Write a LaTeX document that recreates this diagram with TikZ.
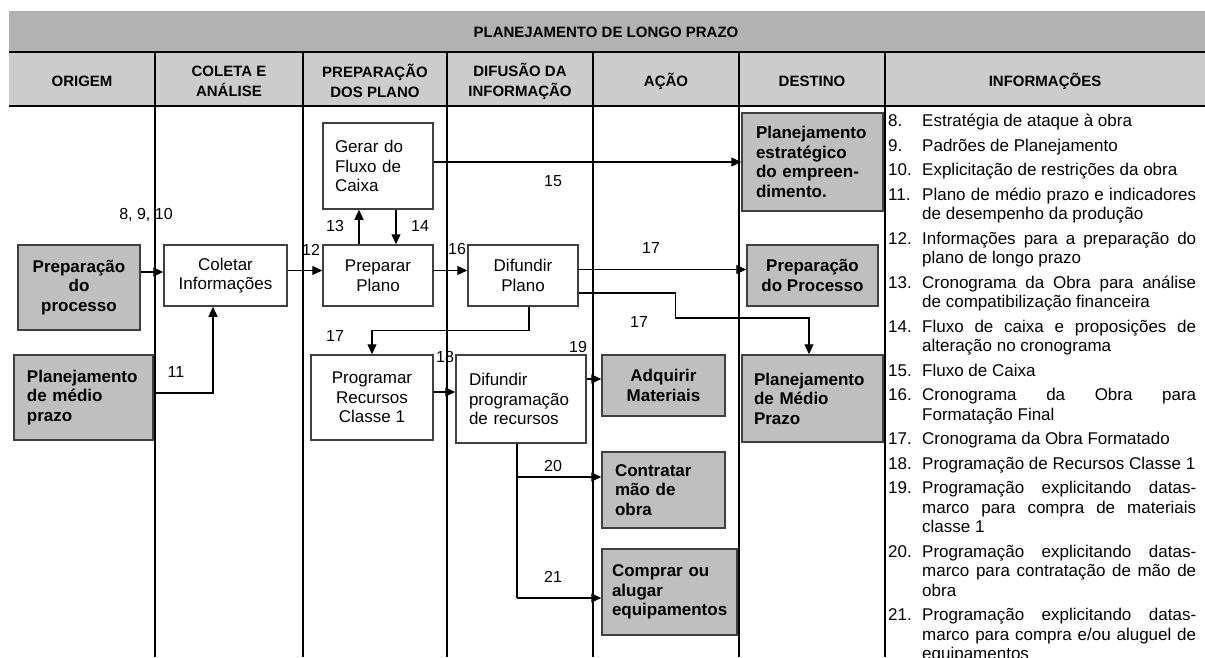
\documentclass[tikz,border=0pt]{standalone}
\usepackage{fontspec}
\setmainfont{Liberation Sans}
\usetikzlibrary{positioning,arrows.meta}
\definecolor{bandgray}{gray}{0.70}
\definecolor{headgray}{gray}{0.80}
\definecolor{boxgray}{gray}{0.75}
\newcommand{\infoitem}[2]{\hangindent=34pt\hangafter=1\noindent\makebox[34pt][l]{#1}#2\par}

\begin{document}
\begin{tikzpicture}[x=1pt, y=-1pt,
  every node/.style={font=\fontsize{17}{19.5}\selectfont, inner sep=0pt},
  head/.style={font=\fontsize{15}{20}\selectfont\bfseries, align=center},
  wbox/.style={draw=black!75, line width=1.5pt, fill=white, align=center, inner sep=4pt},
  gbox/.style={wbox, fill=boxgray, font=\fontsize{17}{19.5}\selectfont\bfseries},
  num/.style={font=\fontsize{16}{19}\selectfont},
  arr/.style={-{Triangle[length=10pt,width=9pt]}, line width=1.2pt}]
\useasboundingbox (0,0) rectangle (1205,657);

% cabecalho
\fill[bandgray] (9,11) rectangle (1205,52);
\fill[headgray] (9,52) rectangle (1205,106);
\draw[line width=1.6pt] (9,52) -- (1205,52);
\draw[line width=1.6pt] (9,106) -- (1205,106);
\foreach \x in {155,303,447,593,739,885}
  \draw[line width=1.4pt] (\x,52) -- (\x,657);

\node[head] (title) at (606,32) {PLANEJAMENTO DE LONGO PRAZO};
\node[head] (hOrig) at (82,81) {ORIGEM};
\node[head] (hCol) at (229,81) {COLETA E\\ANÁLISE};
\node[head] (hPrep) at (375,81) {PREPARAÇÃO\\DOS PLANO};
\node[head] (hDif) at (520,81) {DIFUSÃO DA\\INFORMAÇÃO};
\node[head] (hAcao) at (666,81) {AÇÃO};
\node[head] (hDest) at (812,81) {DESTINO};
\node[head] (hInfo) at (1045,81) {INFORMAÇÕES};

% caixas
\node[gbox, minimum width=122, minimum height=85] (prepproc) at (79,287.5) {Preparação\\do\\processo};
\node[gbox, align=left, text width=113, inner xsep=13, minimum height=85] (planmp) at (83.5,397.5) {Planejamento\\de médio\\prazo};
\node[wbox, minimum width=123, minimum height=61] (coletar) at (225.5,275.5) {Coletar\\Informações};
\node[wbox, align=left, text width=86, inner xsep=12, minimum height=86] (gerar) at (378,166) {Gerar do\\Fluxo de\\Caixa};
\node[wbox, minimum width=110, minimum height=61] (preparar) at (378,275.5) {Preparar\\Plano};
\node[wbox, minimum width=122, minimum height=85] (programar) at (372,397.5) {Programar\\Recursos\\Classe 1};
\node[wbox, minimum width=110, minimum height=61] (difplano) at (523,275.5) {Difundir\\Plano};
\node[wbox, align=left, text width=104, inner xsep=13, minimum height=88] (difprog) at (521,399) {Difundir\\programação\\de recursos};
\node[gbox, minimum width=123, minimum height=61] (adquirir) at (663.5,385.5) {Adquirir\\Materiais};
\node[gbox, align=left, text width=97, inner xsep=13, minimum height=76] (contratar) at (663.5,490) {Contratar\\mão de\\obra};
\node[gbox, align=left, text width=115, inner xsep=10, minimum height=86] (comprar) at (669.5,592) {Comprar ou\\alugar\\equipamentos};
\node[gbox, align=left, text width=113, inner xsep=14, minimum height=98] (planest) at (812.5,162) {Planejamento\\estratégico\\do empreen-\\dimento.};
\node[gbox, minimum width=131, minimum height=61] (prepprocesso) at (812.5,275.5) {Preparação\\do Processo};
\node[gbox, align=left, text width=117, inner xsep=12, minimum height=87] (planmp2) at (812.5,398.5) {Planejamento\\de Médio\\Prazo};

% fluxos
\draw[arr] ([yshift=15.5]prepproc.east) -- ([yshift=3.5]coletar.west);
\draw[arr] ([yshift=4.5]planmp.east) -| ([xshift=-12.5]coletar.south);
\draw[arr] ([yshift=5]coletar.east) -- ([yshift=5]preparar.west);
\draw[arr] ([xshift=-19]preparar.north) -- ([xshift=-19]gerar.south);
\draw[arr] ([xshift=18]gerar.south) -- ([xshift=18]preparar.north);
\draw[arr] ([yshift=4]gerar.east) -- (planest.west);
\draw[arr] ([yshift=5]preparar.east) -- ([yshift=5]difplano.west);
\draw[arr] ([yshift=6]difplano.east) -- ([yshift=6]prepprocesso.west);
\draw[arr] ([yshift=-17.5]difplano.east) -- ++(97,0) -- ++(0,25) -| ([xshift=-3.5]planmp2.north);
\draw[arr] ([xshift=6]difplano.south) -- ++(0,24) -| (programar.north);
\draw[arr] ([yshift=5.5]programar.east) -- ([yshift=7]difprog.west);
\draw[arr] ([yshift=20]difprog.east) -- ([yshift=6.5]adquirir.west);
\coordinate (b20) at (517,477);
\coordinate (b21) at (517,598);
\draw[line width=1.2pt] ([xshift=-4]difprog.south) -- (b21);
\draw[arr] (b20) -- (b20 -| contratar.west);
\draw[arr] (b21) -- (b21 -| comprar.west);

% numeros
\node[num] (l8) at (146,215) {8, 9, 10};
\node[num] (l11) at (176,372) {11};
\node[num] (l12) at (311,250) {12};
\node[num] (l13) at (335,226) {13};
\node[num] (l14) at (420,226) {14};
\node[num] (l15) at (553,181) {15};
\node[num] (l16) at (457,249) {16};
\node[num] (l17a) at (651,248) {17};
\node[num] (l17b) at (335,336) {17};
\node[num] (l17c) at (639,322) {17};
\node[num] (l18) at (445,357) {18};
\node[num] (l19) at (578,347) {19};
\node[num] (l20) at (553,466) {20};
\node[num] (l21) at (553,577) {21};

% lista de informacoes
\node[anchor=north west, text width=308, align=justify] (info) at (888,114) {%
\setlength{\parskip}{5pt}%
\infoitem{8.}{Estratégia de ataque à obra}
\infoitem{9.}{Padrões de Planejamento}
\infoitem{10.}{Explicitação de restrições da obra}
\infoitem{11.}{Plano de médio prazo e indicadores\linebreak de desempenho da produção}
\infoitem{12.}{Informações para a preparação do\linebreak plano de longo prazo}
\infoitem{13.}{Cronograma da Obra para análise\linebreak de compatibilização financeira}
\infoitem{14.}{Fluxo de caixa e proposições de\linebreak alteração no cronograma}
\infoitem{15.}{Fluxo de Caixa}
\infoitem{16.}{Cronograma da Obra para\linebreak Formatação Final}
\infoitem{17.}{Cronograma da Obra Formatado}
\infoitem{18.}{Programação de Recursos Classe 1}
\infoitem{19.}{Programação explicitando datas-\linebreak marco para compra de materiais\linebreak classe 1}
\infoitem{20.}{Programação explicitando datas-\linebreak marco para contratação de mão de\linebreak obra}
\infoitem{21.}{Programação explicitando datas-\linebreak marco para compra e/ou aluguel de\linebreak equipamentos}
};
\end{tikzpicture}
\end{document}
